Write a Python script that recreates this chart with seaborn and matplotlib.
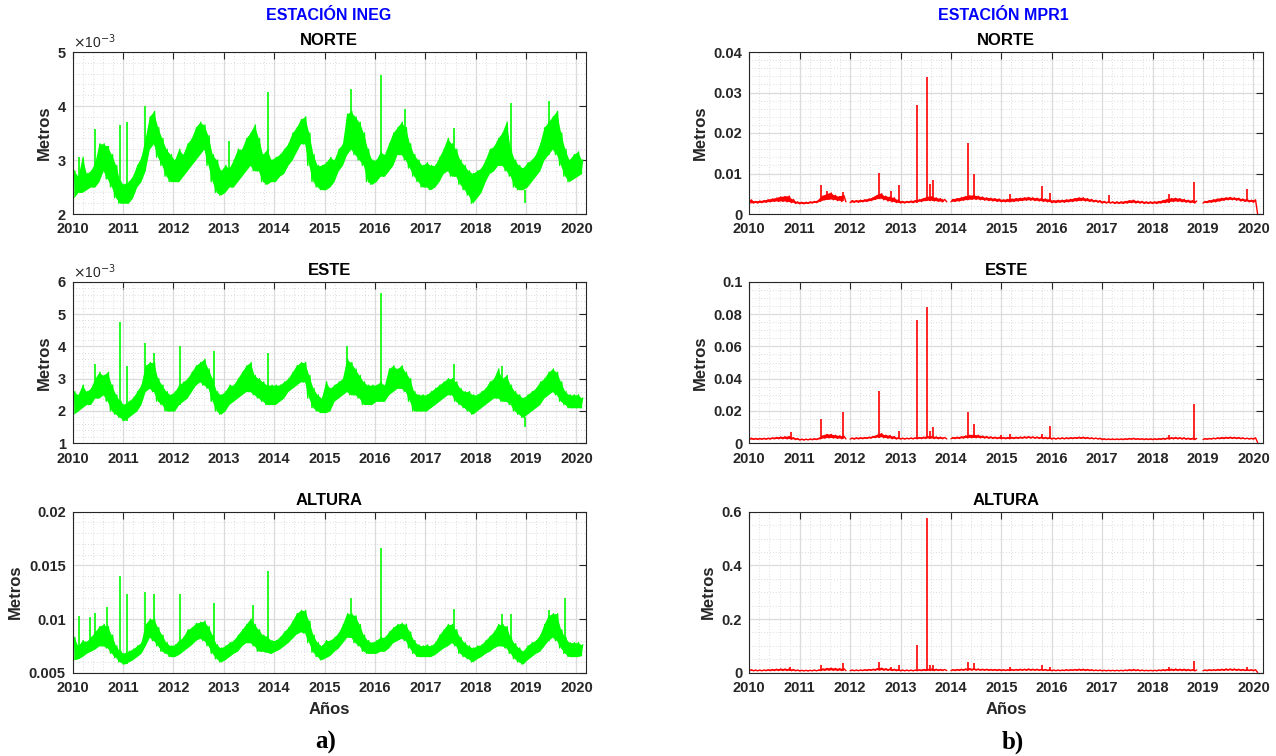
import numpy as np
import pandas as pd
import matplotlib
matplotlib.use("Agg")
import matplotlib.pyplot as plt
import seaborn as sns
from matplotlib.ticker import MultipleLocator, FuncFormatter, AutoMinorLocator

# ---------------- DATA (monthly low / high envelopes, Jan 2010 .. Feb 2020) ----------------
START_YEAR = 2010
TITLES = ["NORTE", "ESTE", "ALTURA"]
STATIONS = ["ESTACIÓN INEG", "ESTACIÓN MPR1"]
nan = float("nan")

# INEG NORTE (x1e-3 m)
ineg_norte_lo = [2.3,2.4,2.4,2.45,2.5,2.5,2.6,2.8,2.65,2.5,2.3,2.2,
                 2.2,2.2,2.3,2.5,2.6,2.8,3.2,3.3,3.05,2.9,2.7,2.6,
                 2.6,2.6,2.7,2.8,2.9,3.0,3.1,3.2,2.9,2.6,2.4,2.35,
                 2.4,2.5,2.5,2.6,2.7,2.8,2.9,2.8,2.8,2.6,2.55,2.6,
                 2.6,2.7,2.75,2.9,3.0,3.15,3.3,3.3,2.9,2.6,2.5,2.45,
                 2.45,2.5,2.6,2.8,2.9,3.1,3.2,3.1,3.0,2.9,2.6,2.55,
                 2.6,2.7,2.7,2.8,2.9,3.1,3.1,3.0,2.85,2.7,2.6,2.5,
                 2.5,2.45,2.5,2.6,2.75,2.8,2.7,2.7,2.55,2.45,2.35,2.2,
                 2.3,2.4,2.6,2.75,2.8,2.9,2.9,2.8,2.7,2.5,2.45,2.45,
                 2.5,2.6,2.7,2.8,3.0,3.1,3.2,3.1,2.9,2.7,2.6,2.65,
                 2.7,2.75]
ineg_norte_hi = [2.8,2.7,3.05,2.75,2.8,2.95,3.3,3.3,3.25,3.1,2.9,2.6,
                 2.55,2.6,2.7,2.9,3.05,3.4,3.8,3.9,3.6,3.4,3.2,3.1,
                 3.0,3.2,3.1,3.3,3.4,3.6,3.7,3.65,3.45,3.1,3.0,2.8,
                 2.9,2.85,3.0,3.2,3.2,3.4,3.5,3.65,3.4,3.1,3.2,3.0,
                 3.05,3.1,3.2,3.3,3.5,3.6,3.75,3.8,3.5,3.1,2.9,2.9,
                 2.95,3.05,3.0,3.2,3.3,3.85,3.9,3.8,3.7,3.5,3.2,3.0,
                 3.0,3.15,3.1,3.3,3.5,3.6,3.7,3.6,3.3,3.1,3.0,2.9,
                 2.95,2.9,2.9,3.05,3.2,3.4,3.3,3.2,3.0,2.9,2.8,2.75,
                 2.8,2.85,3.0,3.2,3.25,3.4,3.5,3.7,3.2,3.0,2.9,2.85,
                 2.95,3.0,3.1,3.3,3.6,3.7,3.8,3.9,3.5,3.2,3.0,3.1,
                 3.15,3.0]
ineg_norte_spk_t = [2010.13,2010.45,2010.68,2010.93,2011.07,2011.43,2013.10,2013.88,
                    2015.52,2016.13,2016.60,2017.57,2018.70,2018.97,2019.45]
ineg_norte_spk_v = [3.05,3.58,3.25,3.65,3.7,4.0,3.35,4.25,4.31,4.57,3.95,3.6,4.05,2.2,4.1]

# INEG ESTE (x1e-3 m)
ineg_este_lo = [1.9,2.0,2.1,2.2,2.2,2.4,2.4,2.5,2.3,2.0,1.9,1.8,
                1.7,1.8,1.9,2.0,2.2,2.6,2.7,2.6,2.3,2.2,2.0,2.0,
                2.0,2.2,2.3,2.4,2.6,2.8,2.9,2.8,2.7,2.3,2.0,1.9,
                2.0,2.2,2.3,2.4,2.5,2.6,2.6,2.5,2.4,2.3,2.2,2.2,
                2.2,2.3,2.4,2.6,2.7,2.8,2.9,2.9,2.4,2.1,2.0,1.95,
                1.95,2.0,2.3,2.4,2.5,2.6,2.5,2.5,2.4,2.2,2.2,2.2,
                2.3,2.3,2.3,2.5,2.6,2.7,2.7,2.6,2.3,2.0,2.0,2.0,
                2.0,2.1,2.2,2.3,2.4,2.5,2.5,2.3,2.2,2.1,2.0,1.9,
                2.0,2.1,2.2,2.3,2.4,2.4,2.3,2.3,2.2,2.0,1.9,1.8,
                1.9,2.0,2.1,2.2,2.4,2.5,2.6,2.5,2.3,2.2,2.1,2.1,
                2.1,2.1]
ineg_este_hi = [2.6,2.5,2.8,2.6,2.7,3.0,3.2,3.1,3.2,2.8,2.5,2.3,
                2.2,2.3,2.4,2.6,2.8,3.4,3.5,3.5,3.0,2.8,2.6,2.5,
                2.6,2.8,2.9,3.0,3.2,3.4,3.5,3.6,3.3,3.0,2.6,2.5,
                2.6,2.8,2.8,3.0,3.2,3.4,3.5,3.1,3.0,2.9,2.8,2.8,
                2.8,2.8,2.9,3.0,3.2,3.4,3.5,3.5,3.1,2.7,2.5,2.4,
                2.9,2.7,2.8,2.9,3.0,3.6,3.5,3.3,3.1,2.9,2.8,2.8,
                2.8,2.9,2.8,3.3,3.4,3.3,3.4,3.2,3.0,2.6,2.5,2.5,
                2.5,2.6,2.7,2.8,2.9,3.0,3.0,2.9,2.7,2.6,2.6,2.5,
                2.5,2.6,2.7,2.9,3.0,3.3,3.0,3.1,2.8,2.6,2.5,2.4,
                2.5,2.6,2.7,2.9,3.0,3.2,3.3,3.2,2.9,2.6,2.5,2.5,
                2.5,2.4]
ineg_este_spk_t = [2010.45,2010.93,2011.08,2011.43,2011.61,2012.13,2012.81,2013.88,
                   2015.45,2016.13,2017.57,2018.53,2018.97]
ineg_este_spk_v = [3.45,4.75,3.4,4.1,3.8,4.0,3.85,3.8,4.0,5.65,3.45,3.4,1.5]

# INEG ALTURA (x1e-3 m)
ineg_alt_lo = [6.2,6.3,6.5,6.8,7.0,7.2,7.5,7.5,7.3,6.8,6.4,6.0,
               5.8,6.0,6.2,6.5,6.8,7.5,8.3,8.0,7.5,7.0,6.8,6.5,
               6.5,6.7,7.0,7.3,7.6,8.0,8.2,8.0,7.5,6.8,6.3,6.0,
               6.2,6.5,6.8,7.0,7.5,7.8,7.8,7.5,7.0,7.0,6.9,6.8,
               7.0,7.2,7.5,7.8,8.2,8.6,8.8,8.7,7.8,6.9,6.5,6.2,
               6.4,6.6,7.0,7.3,7.8,8.3,8.3,7.8,7.5,7.0,6.8,6.8,
               6.8,7.0,7.0,7.3,7.8,8.0,8.2,8.0,7.3,6.8,6.5,6.5,
               6.5,6.5,6.7,7.0,7.3,7.5,7.8,7.5,6.8,6.5,6.3,6.0,
               6.3,6.5,6.8,7.0,7.3,7.5,7.5,7.3,6.8,6.3,6.0,5.8,
               6.2,6.5,6.8,7.0,7.5,8.0,8.3,8.0,7.3,6.8,6.5,6.5,
               6.5,6.6]
ineg_alt_hi = [8.3,7.5,8.0,7.9,8.3,8.8,9.3,9.5,9.3,8.5,7.5,7.0,
               6.8,7.0,7.2,7.5,7.8,9.5,10.0,10.0,9.2,8.5,7.8,7.5,
               7.6,8.0,8.3,9.0,9.2,9.6,9.7,9.8,9.3,8.5,7.6,7.3,
               7.5,7.8,8.0,8.5,9.0,9.5,10.0,9.5,9.0,8.5,8.4,8.0,
               8.0,8.3,8.8,9.2,9.8,10.5,10.8,10.8,9.8,8.5,7.8,7.5,
               8.0,8.0,8.3,8.7,9.5,10.5,10.5,10.3,9.5,8.5,8.0,7.8,
               8.0,8.3,8.3,8.8,9.2,9.5,9.6,9.5,8.8,8.0,7.6,7.5,
               7.6,7.5,7.8,8.5,9.0,9.5,9.5,9.0,8.3,7.8,7.5,7.3,
               7.5,7.6,8.0,8.4,8.8,9.5,9.5,9.3,8.3,7.7,7.3,7.0,
               7.5,7.8,8.0,8.5,9.5,10.3,10.5,10.5,9.0,8.3,7.8,7.8,
               7.8,7.6]
ineg_alt_spk_t = [2010.13,2010.35,2010.45,2010.69,2010.93,2011.08,2011.43,2011.61,2012.13,
                  2012.81,2013.58,2013.88,2015.52,2016.13,2017.57,2018.53,2018.70,2019.45,2019.77]
ineg_alt_spk_v = [10.3,10.2,10.6,11.1,14.0,12.3,12.5,12.3,12.3,11.5,11.3,14.5,12.0,16.6,10.9,
                  10.5,10.5,10.8,12.0]

# MPR1 NORTE (x1e-3 m), nan = data gap
mpr_norte_lo = [2.6,2.7,2.7,2.8,2.9,3.0,3.1,3.1,3.1,3.0,2.8,2.6,
                2.5,2.5,2.6,2.7,2.8,3.2,3.5,3.6,3.5,3.3,3.1,3.0,
                2.8,2.9,2.9,3.0,3.1,3.3,3.6,3.8,3.5,3.2,3.0,2.8,
                2.7,2.7,2.8,2.8,3.0,3.1,3.3,3.3,3.2,3.1,3.0,3.0,
                3.0,3.1,3.2,3.4,3.5,3.6,3.6,3.5,3.4,3.3,3.2,3.1,
                3.0,3.0,3.0,3.1,3.2,3.3,3.4,3.4,3.3,3.2,3.1,3.0,
                2.8,2.8,2.9,2.9,3.0,3.1,3.2,3.3,3.2,3.1,3.0,2.9,
                2.7,2.7,2.7,2.6,2.6,2.6,2.7,2.8,2.7,2.7,2.6,2.6,
                2.6,2.6,2.7,2.8,3.0,3.1,3.1,3.0,2.9,2.8,2.7,nan,
                2.7,2.8,2.9,3.0,3.2,3.4,3.5,3.5,3.4,3.2,3.1,3.0,
                2.9,0.0]
mpr_norte_hi = [3.5,3.1,3.2,3.3,3.5,3.7,3.9,4.2,4.3,4.4,3.6,3.0,
                2.9,2.9,3.0,3.1,3.3,4.4,4.8,5.2,4.6,4.3,4.6,nan,
                3.3,3.3,3.4,3.5,3.7,4.0,4.6,5.0,4.4,4.2,4.0,3.5,
                3.1,3.1,3.2,3.3,3.5,3.8,4.2,4.3,4.0,3.8,3.6,nan,
                3.6,3.8,4.0,4.3,4.5,4.6,4.4,4.2,4.0,3.9,3.8,3.7,
                3.5,3.6,3.7,3.8,3.9,4.0,4.1,4.0,3.9,3.8,3.7,3.6,
                3.3,3.4,3.4,3.5,3.6,3.8,4.0,4.0,3.8,3.6,3.4,3.3,
                3.1,3.0,3.0,3.0,3.0,3.1,3.3,3.4,3.2,3.1,3.0,3.0,
                3.0,3.1,3.3,3.6,3.8,3.9,3.8,3.6,3.4,3.3,3.2,nan,
                3.1,3.3,3.5,3.7,3.9,4.0,4.1,4.0,3.9,3.7,3.6,3.4,
                3.5,nan]
mpr_norte_spk_t = [2011.43,2011.55,2011.85,2012.58,2012.82,2012.97,2013.32,2013.53,2013.58,
                   2013.65,2014.33,2014.46,2015.18,2015.80,2015.97,2017.13,2018.33,2018.83,2019.87]
mpr_norte_spk_v = [7.2,5.8,5.5,10.2,5.8,7.2,27.0,33.9,7.3,8.3,17.6,9.9,5.0,6.9,5.2,4.6,5.0,8.0,6.2]

# MPR1 ESTE (x1e-3 m)
mpr_este_lo = [2.3,2.4,2.4,2.5,2.5,2.6,2.7,2.8,2.8,2.7,2.5,2.3,
               2.0,2.0,2.1,2.2,2.3,2.8,3.2,3.3,3.2,3.0,2.8,2.7,
               2.6,2.6,2.7,2.8,3.0,3.2,3.5,3.8,3.4,3.1,2.8,2.6,
               2.6,2.6,2.7,2.7,2.8,2.9,3.0,3.0,2.9,2.8,2.8,2.7,
               2.8,2.9,3.0,3.2,3.3,3.4,3.4,3.3,3.2,3.1,3.0,2.9,
               2.8,2.8,2.8,2.9,3.0,3.1,3.2,3.2,3.1,3.0,2.9,2.8,
               2.6,2.6,2.7,2.7,2.8,2.9,3.0,3.0,2.9,2.8,2.7,2.6,
               2.3,2.3,2.3,2.3,2.3,2.3,2.4,2.5,2.4,2.4,2.3,2.3,
               2.3,2.3,2.4,2.5,2.6,2.7,2.7,2.6,2.5,2.4,2.3,nan,
               2.4,2.5,2.6,2.7,2.8,2.9,3.0,3.0,2.9,2.8,2.7,2.6,
               2.6,0.5]
mpr_este_hi = [3.2,3.0,3.0,3.1,3.2,3.4,3.6,3.9,4.0,4.2,3.5,3.0,
               2.6,2.6,2.7,2.8,3.0,4.5,5.5,5.5,5.0,4.6,4.5,nan,
               3.3,3.4,3.5,3.6,3.8,4.2,5.0,6.0,5.0,4.8,4.2,3.5,
               3.2,3.2,3.3,3.4,3.6,3.8,4.2,4.3,4.0,3.8,3.6,nan,
               3.6,3.8,4.0,4.5,5.0,5.2,5.0,4.5,4.2,4.0,3.8,3.7,
               3.6,3.6,3.7,3.8,3.9,4.0,4.1,4.0,3.9,3.8,3.7,3.6,
               3.3,3.3,3.4,3.4,3.5,3.6,3.8,3.8,3.6,3.4,3.3,3.2,
               2.8,2.7,2.7,2.7,2.7,2.8,3.0,3.1,2.9,2.8,2.8,2.8,
               2.8,2.9,3.1,3.3,3.5,3.6,3.5,3.4,3.2,3.1,3.0,nan,
               2.9,3.0,3.2,3.4,3.6,3.7,3.8,3.7,3.6,3.4,3.2,3.1,
               3.4,nan]
mpr_este_spk_t = [2010.83,2011.43,2011.85,2012.58,2012.97,2013.32,2013.53,2013.58,2013.65,
                  2014.33,2014.46,2015.00,2015.18,2015.80,2015.97,2018.33,2018.83]
mpr_este_spk_v = [7.0,15.0,19.5,32.5,7.5,76.5,84.5,7.5,10.0,19.5,12.0,5.0,5.5,5.5,10.8,5.0,24.5]

# MPR1 ALTURA (x1e-3 m)
mpr_alt_lo = [7,7,7,7,7.5,7.5,8,8,8,8,7.5,7,
              6.5,6.5,6.5,7,7,8,8.5,9,8.5,8,8,7.5,
              7.5,7.5,7.5,8,8,8.5,9,9.5,9,8.5,8,7.5,
              7,7,7,7,7.5,7.5,8,8,8,8,8,8,
              8,8,8.5,9,9,9.5,9.5,9,9,8.5,8.5,8,
              8,8,8,8.5,8.5,9,9,9,9,8.5,8.5,8,
              7.5,7.5,7.5,8,8,8.5,8.5,8.5,8,8,7.5,7.5,
              7,7,7,7,7,7,7.5,7.5,7.5,7,7,7,
              7,7,7.5,7.5,8,8,8,8,7.5,7.5,7,nan,
              7.5,7.5,8,8,8.5,8.5,9,9,8.5,8,8,8,
              7.5,1.0]
mpr_alt_hi = [11,10,10,10,11,12,13,14,14,14,12,10,
              9,9,9,10,10,14,16,17,16,15,15,nan,
              10,10,10,11,12,13,15,17,15,14,13,12,
              10,10,10,10,11,12,13,14,13,12,12,nan,
              11,12,13,14,15,15,14,13,13,12,12,12,
              11,11,12,12,13,13,14,13,13,12,12,11,
              10,10,10,11,11,12,13,13,12,11,10,10,
              9,9,9,9,9,10,11,12,11,10,9,9,
              9,10,11,12,13,14,13,13,12,11,10,nan,
              10,11,11,12,13,14,14,14,13,12,11,11,
              11,nan]
mpr_alt_spk_t = [2010.80,2011.43,2011.85,2012.58,2012.82,2012.97,2013.32,2013.53,2013.58,
                 2013.65,2014.33,2014.46,2015.18,2015.80,2015.97,2018.33,2018.83,2019.87]
mpr_alt_spk_v = [20,30,35,40,22,30,104,577,28,28,40,35,20,30,20,20,43,20]

# ---------------- STYLE ----------------
sns.set_theme(style="white")
plt.rcParams['font.family'] = ['Liberation Sans', 'DejaVu Sans']
TXT = '0.15'
GREEN = '#00FF00'
RED = '#FF0000'


def zigzag(lo, hi):
    rows, seg = [], 0
    for i, (a, b) in enumerate(zip(lo, hi)):
        t = START_YEAR + i / 12.0
        for tt, v in ((t, a), (t + 1 / 24.0, b)):
            if np.isnan(v):
                seg += 1
                continue
            rows.append((tt, v * 1e-3, seg))
    return pd.DataFrame(rows, columns=['t', 'v', 'seg'])


def draw(ax, lo, hi, spk_t, spk_v, color):
    t_month = START_YEAR + np.arange(len(lo)) / 12.0
    lo_a = np.array(lo, dtype=float) * 1e-3
    hi_a = np.array(hi, dtype=float) * 1e-3
    ax.fill_between(t_month + 1 / 48.0, lo_a, hi_a, color=color, lw=0, alpha=1.0)
    df = zigzag(lo, hi)
    sns.lineplot(data=df, x='t', y='v', units='seg', estimator=None, sort=False,
                 color=color, lw=1.0, ax=ax, legend=False)
    base = [lo[int(np.floor((t - START_YEAR) * 12))] * 1e-3 for t in spk_t]
    ax.vlines(spk_t, base, np.array(spk_v) * 1e-3, color=color, lw=1.2)


def style(ax, ylim, ymajor, nminor, scale, title, xlabel):
    ax.set_xlim(2010, 2020.19)
    ax.set_ylim(*ylim)
    ax.xaxis.set_major_locator(MultipleLocator(1))
    ax.xaxis.set_minor_locator(MultipleLocator(0.2))
    ax.yaxis.set_major_locator(MultipleLocator(ymajor))
    ax.yaxis.set_minor_locator(AutoMinorLocator(nminor))
    ax.xaxis.set_major_formatter(FuncFormatter(lambda v, p: f"{int(round(v))}"))
    ax.yaxis.set_major_formatter(FuncFormatter(lambda v, p: f"{round(v * scale, 6):g}"))
    ax.grid(which='major', color='0.86', lw=0.9, ls='-')
    ax.grid(which='minor', color='0.82', lw=0.6, ls=(0, (1, 2.5)))
    ax.set_axisbelow(True)
    ax.tick_params(which='major', direction='in', top=True, right=True, length=5,
                   width=0.8, color=TXT, labelcolor=TXT, labelsize=10.5)
    ax.tick_params(axis='x', which='major', pad=6)
    ax.tick_params(axis='y', which='major', pad=5)
    ax.tick_params(which='minor', length=0)
    for lab in ax.get_xticklabels() + ax.get_yticklabels():
        lab.set_fontweight('bold')
    for sp in ax.spines.values():
        sp.set_color(TXT)
        sp.set_linewidth(0.8)
    ax.set_title(title, fontsize=12, fontweight='bold', color='black', pad=5)
    ax.set_ylabel('Metros', fontsize=12, fontweight='bold', color=TXT, labelpad=4)
    ax.set_xlabel('Años' if xlabel else '', fontsize=12, fontweight='bold', color=TXT, labelpad=5)
    if scale != 1:
        ax.text(0.0, 1.005, r'$\times$10$^{-3}$', transform=ax.transAxes, ha='left',
                va='bottom', fontsize=10, color=TXT)


fig = plt.figure(figsize=(12.76, 7.56), dpi=100)
W, H = 1276.0, 756.0
cols = [(72.7, 586.0), (749.3, 1263.0)]
rows = [(52.0, 214.0), (281.7, 443.3), (511.7, 672.7)]

series = [
    [(ineg_norte_lo, ineg_norte_hi, ineg_norte_spk_t, ineg_norte_spk_v, (0.002, 0.005), 0.001, 5, 1e3),
     (ineg_este_lo, ineg_este_hi, ineg_este_spk_t, ineg_este_spk_v, (0.001, 0.006), 0.001, 5, 1e3),
     (ineg_alt_lo, ineg_alt_hi, ineg_alt_spk_t, ineg_alt_spk_v, (0.005, 0.02), 0.005, 5, 1)],
    [(mpr_norte_lo, mpr_norte_hi, mpr_norte_spk_t, mpr_norte_spk_v, (0, 0.04), 0.01, 5, 1),
     (mpr_este_lo, mpr_este_hi, mpr_este_spk_t, mpr_este_spk_v, (0, 0.1), 0.02, 4, 1),
     (mpr_alt_lo, mpr_alt_hi, mpr_alt_spk_t, mpr_alt_spk_v, (0, 0.6), 0.2, 4, 1)],
]
colors = [GREEN, RED]

for c, (x0, x1) in enumerate(cols):
    for r, (y0, y1) in enumerate(rows):
        ax = fig.add_axes([x0 / W, 1 - y1 / H, (x1 - x0) / W, (y1 - y0) / H])
        lo, hi, st, sv, ylim, ymaj, nmin, scale = series[c][r]
        draw(ax, lo, hi, st, sv, colors[c])
        style(ax, ylim, ymaj, nmin, scale, TITLES[r], r == 2)

fig.text(328.5 / W, 1 - 15 / H, STATIONS[0], color='#0000FF', fontsize=11.5,
         fontweight='bold', ha='center', va='center')
fig.text(1003 / W, 1 - 15 / H, STATIONS[1], color='#0000FF', fontsize=11.5,
         fontweight='bold', ha='center', va='center')
fig.text(326 / W, 1 - 742 / H, 'a)', fontsize=18, fontweight='bold', ha='center', va='center',
         family=['Liberation Serif', 'DejaVu Serif'], color='black')
fig.text(1013 / W, 1 - 742 / H, 'b)', fontsize=18, fontweight='bold', ha='center', va='center',
         family=['Liberation Serif', 'DejaVu Serif'], color='black')

fig.savefig('out.png', dpi=100)
